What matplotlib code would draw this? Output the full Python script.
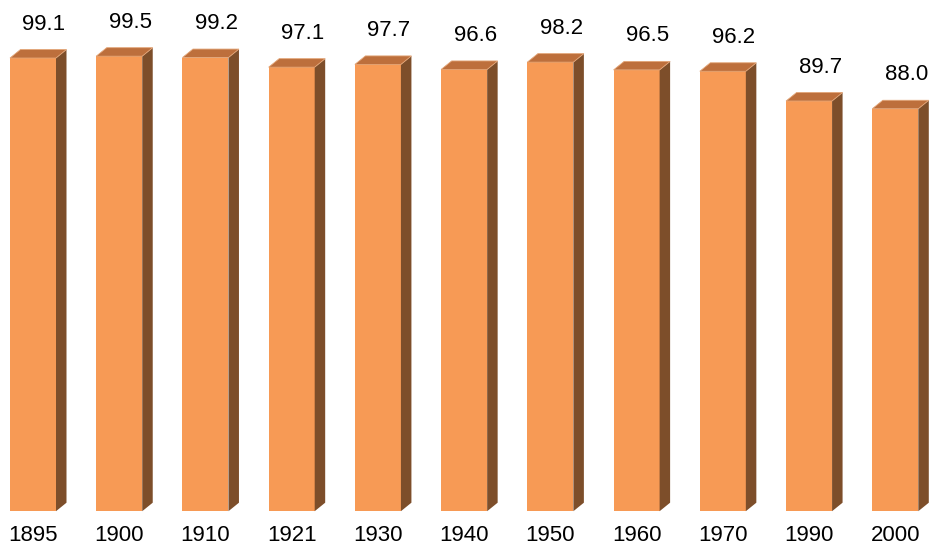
import matplotlib
matplotlib.use("Agg")
import matplotlib.pyplot as plt
from matplotlib.patches import Polygon

years = ["1895", "1900", "1910", "1921", "1930", "1940", "1950", "1960", "1970", "1990", "2000"]
values = [99.1, 99.5, 99.2, 97.1, 97.7, 96.6, 98.2, 96.5, 96.2, 89.7, 88.0]

plt.rcParams['font.family'] = ['Liberation Sans', 'DejaVu Sans']

W, H = 930, 548
fig = plt.figure(figsize=(W / 100, H / 100), dpi=100)
ax = fig.add_axes([0, 0, 1, 1])
ax.axis('off')

pitch = 86.23          # px between bars
x0_px = 33.0           # center of first bar front (px)
base_px = 511.2        # baseline y (px from top)
scale = 4.573          # px per unit
ax.set_xlim(-x0_px / pitch, (W - x0_px) / pitch)
ax.set_ylim(-(H - base_px) / scale, base_px / scale)

front_c = '#F79A55'
top_c = '#BD6F3C'
side_c = '#7D4E2A'

w = 46.0 / pitch
dx = 10.5 / pitch
dy = 8.5 / scale

xs = list(range(len(values)))
ax.bar(xs, values, width=w, color=front_c, linewidth=0, zorder=2)
for x, v in zip(xs, values):
    r = x + w / 2
    l = x - w / 2
    side = Polygon([(r, 0), (r + dx, dy), (r + dx, v + dy), (r, v)],
                   closed=True, facecolor=side_c, edgecolor='none', zorder=2)
    top = Polygon([(l, v), (l + dx, v + dy), (r + dx, v + dy), (r, v)],
                  closed=True, facecolor=top_c, edgecolor='#E3A577', linewidth=0.6, zorder=3)
    ax.add_patch(side)
    ax.add_patch(top)
    ax.annotate(f"{v:.1f}", xy=(x, v), xytext=(11, 34), textcoords='offset pixels',
                ha='center', va='center', fontsize=16, color='black')
    ax.annotate(years[x], xy=(x, 0), xytext=(0, -24.4), textcoords='offset pixels',
                ha='center', va='center', fontsize=16, color='black')

fig.savefig('out.png', dpi=100)
